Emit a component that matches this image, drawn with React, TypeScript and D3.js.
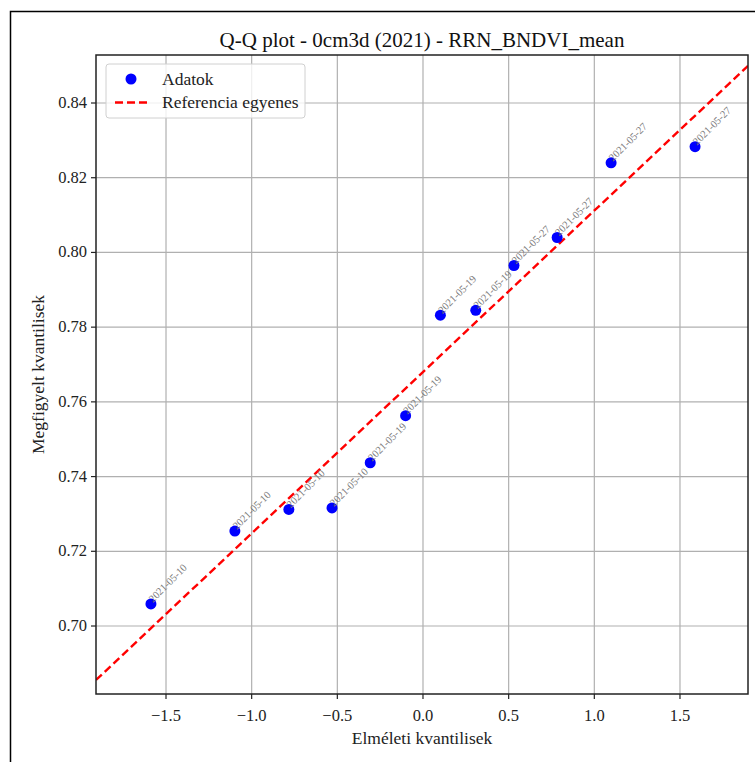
import React from "react";
import * as d3 from "d3";

const theoreticalQ = [-1.588, -1.098, -0.783, -0.531, -0.308, -0.1015, 0.1015, 0.308, 0.531, 0.783, 1.098, 1.588];
const observedQ = [0.7059, 0.7254, 0.7312, 0.7316, 0.7437, 0.7563, 0.7832, 0.7845, 0.7965, 0.804, 0.824, 0.8283];
const dateLabels = [
  "2021-05-10", "2021-05-10", "2021-05-10", "2021-05-10",
  "2021-05-19", "2021-05-19", "2021-05-19", "2021-05-19",
  "2021-05-27", "2021-05-27", "2021-05-27", "2021-05-27",
];
const refSlope = 0.0432;
const refIntercept = 0.768;
const xDomain = [-1.9086, 1.897];
const yDomain = [0.6818, 0.85285];
const xTicks = [-1.5, -1.0, -0.5, 0.0, 0.5, 1.0, 1.5];
const yTicks = [0.7, 0.72, 0.74, 0.76, 0.78, 0.8, 0.82, 0.84];
const titleText = "Q-Q plot - 0cm3d (2021) - RRN_BNDVI_mean";
const xLabel = "Elméleti kvantilisek";
const yLabel = "Megfigyelt kvantilisek";
const legendLabels = ["Adatok", "Referencia egyenes"];

const W = 755, H = 762;
const L = 96, R = 748, T = 55, B = 694;
const FONT = "'Liberation Serif', 'Times New Roman', serif";

export default function App() {
  const x = d3.scaleLinear().domain(xDomain).range([L, R]);
  const y = d3.scaleLinear().domain(yDomain).range([B, T]);
  const fmtX = (v: number) => d3.format(".1f")(v).replace("-", "\u2212");
  const fmtY = d3.format(".2f");
  const lineGen = d3.line<number>().x((v) => x(v)).y((v) => y(refSlope * v + refIntercept));

  return (
    <svg width={W} height={H} style={{ position: "absolute", left: 0, top: 0, background: "white" }} fontFamily={FONT}>
      <rect x={10.5} y={11.5} width={900} height={900} fill="none" stroke="black" strokeWidth={1.5} />
      <defs>
        <clipPath id="plotclip"><rect x={L} y={T} width={R - L} height={B - T} /></clipPath>
      </defs>
      <text x={(L + R) / 2} y={47} textAnchor="middle" fontSize={21} fill="#111">{titleText}</text>
      {/* grid */}
      {xTicks.map((t) => (
        <line key={"gx" + t} x1={x(t)} x2={x(t)} y1={T} y2={B} stroke="#b0b0b0" strokeWidth={1.2} />
      ))}
      {yTicks.map((t) => (
        <line key={"gy" + t} x1={L} x2={R} y1={y(t)} y2={y(t)} stroke="#b0b0b0" strokeWidth={1.2} />
      ))}
      {/* ticks */}
      {xTicks.map((t) => (
        <g key={"tx" + t}>
          <line x1={x(t)} x2={x(t)} y1={B} y2={B + 5} stroke="#222" strokeWidth={1.2} />
          <text x={x(t)} y={B + 27} textAnchor="middle" fontSize={16.5} fill="#222">{fmtX(t)}</text>
        </g>
      ))}
      {yTicks.map((t) => (
        <g key={"ty" + t}>
          <line x1={L - 5} x2={L} y1={y(t)} y2={y(t)} stroke="#222" strokeWidth={1.2} />
          <text x={L - 9} y={y(t) + 5} textAnchor="end" fontSize={16.5} fill="#222">{fmtY(t)}</text>
        </g>
      ))}
      {/* reference line */}
      <path d={lineGen(xDomain) || ""} fill="none" stroke="#ff0000" strokeWidth={2.4} strokeDasharray="8,4" clipPath="url(#plotclip)" />
      {/* points */}
      {theoreticalQ.map((q, i) => (
        <circle key={"p" + i} cx={x(q)} cy={y(observedQ[i])} r={5.5} fill="#0000ff" />
      ))}
      {/* annotations */}
      {theoreticalQ.map((q, i) => (
        <text key={"a" + i} transform={`translate(${x(q) + 2},${y(observedQ[i]) - 1}) rotate(-45)`} fontSize={10.5} fill="#777">
          {dateLabels[i]}
        </text>
      ))}
      {/* spines */}
      <rect x={L} y={T} width={R - L} height={B - T} fill="none" stroke="#222" strokeWidth={1.5} />
      {/* axis labels */}
      <text x={(L + R) / 2} y={744} textAnchor="middle" fontSize={17.5} fill="#222">{xLabel}</text>
      <text transform={`translate(44,${(T + B) / 2}) rotate(-90)`} textAnchor="middle" fontSize={17.5} fill="#222">{yLabel}</text>
      {/* legend */}
      <g>
        <rect x={106} y={64} width={199} height={54} rx={3} fill="white" fillOpacity={0.8} stroke="#d0d0d0" strokeWidth={1} />
        <circle cx={131} cy={79} r={5.5} fill="#0000ff" />
        <line x1={115} x2={147} y1={102.5} y2={102.5} stroke="#ff0000" strokeWidth={2.4} strokeDasharray="8,4" />
        <text x={162} y={85} fontSize={17.5} fill="#222">{legendLabels[0]}</text>
        <text x={162} y={108} fontSize={17.5} fill="#222">{legendLabels[1]}</text>
      </g>
    </svg>
  );
}
